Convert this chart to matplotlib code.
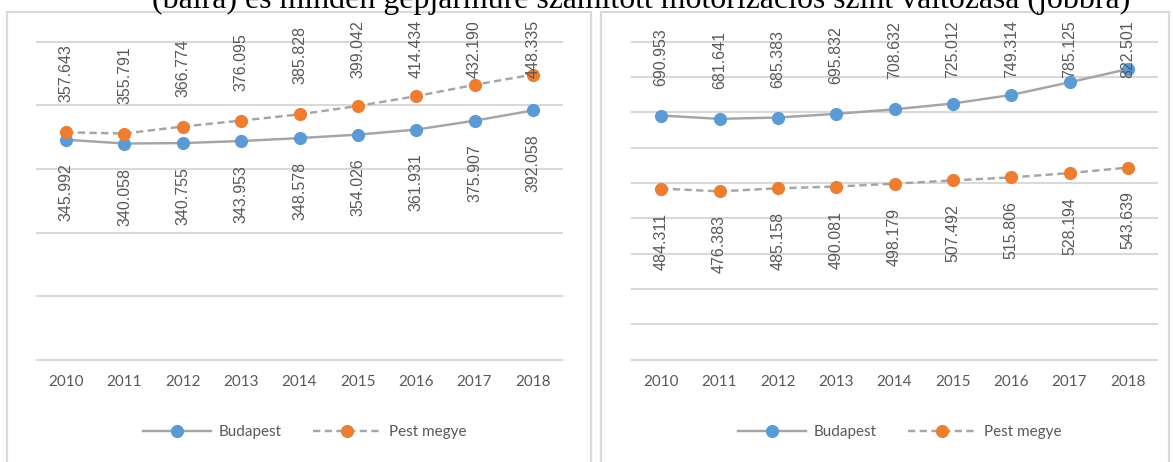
import matplotlib
matplotlib.use('Agg')
import matplotlib.pyplot as plt
from matplotlib.patches import Rectangle
from matplotlib.lines import Line2D

# ---------------- data ----------------
years = ['2010', '2011', '2012', '2013', '2014', '2015', '2016', '2017', '2018']
series_names = ['Budapest', 'Pest megye']
# left panel (cars)
bp_left = [345992, 340058, 340755, 343953, 348578, 354026, 361931, 375907, 392058]
pest_left = [357643, 355791, 366774, 376095, 385828, 399042, 414434, 432190, 448335]
# right panel (all vehicles)
bp_right = [690953, 681641, 685383, 695832, 708632, 725012, 749314, 785125, 822501]
pest_right = [484311, 476383, 485158, 490081, 498179, 507492, 515806, 528194, 543639]
title_text = '(balra) és minden gépjárműre számított motorizációs szint változása (jobbra)'

# ---------------- style ----------------
BLUE = '#5B9BD5'
ORANGE = '#ED7D31'
LINE = '#A5A5A5'
GRID = '#D9D9D9'
TXT = '#595959'
W, H = 1173, 462

fig = plt.figure(figsize=(W / 100, H / 100), dpi=100)
fig.patch.set_facecolor('white')


def add_px_axes(l, r, top, bottom):
    return fig.add_axes([l / W, 1 - bottom / H, (r - l) / W, (bottom - top) / H])


# panel borders
for x0, x1 in [(7, 591), (601, 1169)]:
    fig.add_artist(Rectangle((x0 / W, -10 / H), (x1 - x0) / W, (H - 12 + 10) / H,
                             transform=fig.transFigure, fill=False,
                             edgecolor=GRID, lw=1.6, zorder=0))

# title (cut at top)
title = fig.text(641 / W, 1 - 8 / H, title_text, ha='center', va='baseline',
                 fontsize=20, family='Liberation Serif', color='black')
fig.canvas.draw()
r = fig.canvas.get_renderer()
wpx = title.get_window_extent(r).width
title.set_fontsize(20 * 978 / wpx)

label_font = dict(family='Liberation Sans', fontsize=11.5, color=TXT)
axes_specs = [
    dict(l=37, r=562, top=41.7, bottom=360, ymax=500000, bp=bp_left, pest=pest_left,
         bp_pos='below', pest_pos='above', legend_cx=304.5),
    dict(l=632, r=1157, top=41.7, bottom=359.7, ymax=900000, bp=bp_right, pest=pest_right,
         bp_pos='above', pest_pos='below', legend_cx=899.5),
]

all_above = []
x = list(range(len(years)))
for spec in axes_specs:
    ax = add_px_axes(spec['l'], spec['r'], spec['top'], spec['bottom'])
    ax.set_xlim(-0.5, len(years) - 0.5)
    ax.set_ylim(0, spec['ymax'])
    ax.set_yticks(range(0, spec['ymax'] + 1, 100000))
    ax.yaxis.grid(True, color=GRID, lw=1.5)
    ax.set_axisbelow(True)
    for gl in ax.get_ygridlines():
        gl.set_clip_on(False)
    ax.tick_params(axis='y', length=0, labelleft=False)
    ax.set_xticks(x)
    ax.set_xticklabels(years, family='Lato', fontsize=11, color=TXT)
    ax.tick_params(axis='x', length=0, pad=11)
    for s in ax.spines.values():
        s.set_visible(False)
    ax.patch.set_alpha(0)

    ax.plot(x, spec['bp'], color=LINE, lw=1.75, marker='o', markersize=9.5,
            markerfacecolor=BLUE, markeredgewidth=0, zorder=3)
    ax.plot(x, spec['pest'], color=LINE, lw=1.75, linestyle=(0, (3, 1.8)), marker='o',
            markersize=9.5, markerfacecolor=ORANGE, markeredgewidth=0, zorder=3)

    for vals, pos in [(spec['bp'], spec['bp_pos']), (spec['pest'], spec['pest_pos'])]:
        for xi, v in zip(x, vals):
            s = f'{v:,}'.replace(',', '.')
            if pos == 'above':
                t = ax.annotate(s, (xi, v), xytext=(0, 30), textcoords='offset pixels',
                                rotation=90, ha='center', va='bottom',
                                annotation_clip=False, zorder=4, **label_font)
                all_above.append(t)
            else:
                ax.annotate(s, (xi, v), xytext=(0, -24), textcoords='offset pixels',
                            rotation=90, ha='center', va='top',
                            annotation_clip=False, zorder=4, **label_font)

    handles = [
        Line2D([], [], color=LINE, lw=1.75, marker='o', markersize=9.5,
               markerfacecolor=BLUE, markeredgewidth=0),
        Line2D([], [], color=LINE, lw=1.75, linestyle=(0, (3, 1.8)), marker='o',
               markersize=9.5, markerfacecolor=ORANGE, markeredgewidth=0),
    ]
    leg = ax.legend(handles, series_names, loc='center',
                    bbox_to_anchor=(spec['legend_cx'] / W, 1 - 432 / H),
                    bbox_transform=fig.transFigure, ncol=2, frameon=False,
                    handlelength=4.45, handletextpad=0.55, columnspacing=2.0,
                    prop=dict(family='Lato', size=11))
    for t in leg.get_texts():
        t.set_color(TXT)

# clamp labels that would run past the top of the chart area
fig.canvas.draw()
r = fig.canvas.get_renderer()
top_limit = H - 20
for t in all_above:
    bb = t.get_window_extent(r)
    if bb.y1 > top_limit:
        dx, dy = t.xyann
        t.xyann = (dx, dy - (bb.y1 - top_limit))

fig.savefig('out.png', dpi=100, facecolor='white')
